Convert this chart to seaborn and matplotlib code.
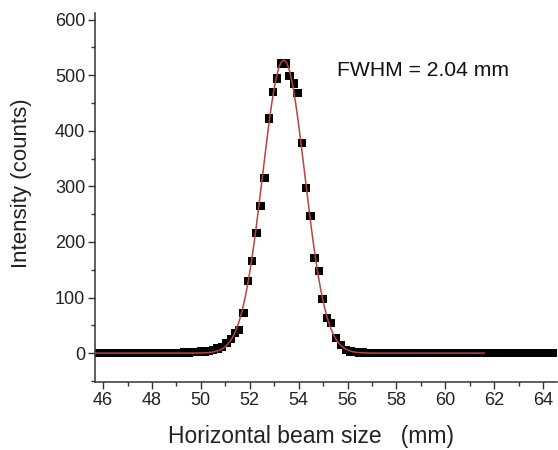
import numpy as np
import pandas as pd
import matplotlib
matplotlib.use("Agg")
import matplotlib.pyplot as plt
import seaborn as sns
from matplotlib.ticker import MultipleLocator

# ---- data ----
x_left = [45.75, 45.92, 46.09, 46.26, 46.43, 46.60, 46.77, 46.94, 47.11, 47.28,
          47.45, 47.62, 47.79, 47.96, 48.13, 48.30, 48.47, 48.64, 48.81, 48.98,
          49.15, 49.32, 49.49, 49.66, 49.83, 50.00, 50.17, 50.34, 50.51, 50.68]
y_left = [0, 0, 0, 0, 0, 0, 0, 0, 0, 0,
          0, 0, 0, 0, 0, 0, 0, 0, 0, 0,
          0, 1, 1, 2, 2, 3, 3, 4, 6, 8]

x_peak = [50.86, 51.05, 51.22, 51.39, 51.56, 51.75, 51.92, 52.09, 52.27, 52.44,
          52.61, 52.78, 52.94, 53.11, 53.30, 53.47, 53.63, 53.80, 53.96, 54.13,
          54.30, 54.48, 54.65, 54.82, 54.98, 55.15, 55.33, 55.52, 55.73, 55.94]
y_peak = [11, 18, 25, 36, 41, 72, 130, 166, 216, 265,
          315, 422, 470, 494, 521, 521, 499, 485, 468, 378,
          297, 247, 171, 148, 97, 63, 54, 27, 14, 5]

x_right = [56.12, 56.29, 56.46, 56.63, 56.80, 56.97, 57.14, 57.31, 57.48, 57.65,
           57.82, 57.99, 58.16, 58.33, 58.50, 58.67, 58.84, 59.01, 59.18, 59.35,
           59.52, 59.69, 59.86, 60.03, 60.20, 60.37, 60.54, 60.71, 60.88, 61.05,
           61.22, 61.39, 61.56, 61.73, 61.90, 62.07, 62.24, 62.41, 62.58, 62.75,
           62.92, 63.09, 63.26, 63.43, 63.60, 63.77, 63.94, 64.11, 64.28, 64.45]
y_right = [3, 2, 1, 1, 0, 0, 0, 0, 0, 0,
           0, 0, 0, 0, 0, 0, 0, 0, 0, 0,
           0, 0, 0, 0, 0, 0, 0, 0, 0, 0,
           0, 0, 0, 0, 0, 0, 0, 0, 0, 0,
           0, 0, 0, 0, 0, 0, 0, 0, 0, 0]

# Gaussian fit parameters (from the chart)
fit_amplitude = 527.0
fit_center = 53.39
fit_fwhm = 2.04
fit_range = (45.67, 61.6)

annotation = "FWHM = 2.04 mm"
xlabel = "Horizontal beam size   (mm)"
ylabel = "Intensity (counts)"

# ---- build frames ----
df = pd.DataFrame({"x": x_left + x_peak + x_right,
                   "y": y_left + y_peak + y_right})
sigma = fit_fwhm / (2 * np.sqrt(2 * np.log(2)))
xf = np.linspace(fit_range[0], fit_range[1], 600)
fit_df = pd.DataFrame({"x": xf,
                       "y": fit_amplitude * np.exp(-(xf - fit_center) ** 2 / (2 * sigma ** 2))})

sns.set_style("ticks")
plt.rcParams["font.family"] = ["Liberation Sans", "DejaVu Sans"]

fig = plt.figure(figsize=(5.58, 4.5), dpi=100)
ax = fig.add_axes([95 / 558, 1 - 382 / 450, (557 - 95) / 558, (382 - 13) / 450])

sns.scatterplot(data=df, x="x", y="y", marker="s", s=36, color="black",
                edgecolor="none", linewidth=0, ax=ax, zorder=2)
sns.lineplot(data=fit_df, x="x", y="y", color="#b8433f", linewidth=1.1,
             sort=False, ax=ax, zorder=3)

ax.set_xlim(45.67, 64.57)
ax.set_ylim(-52, 612)
ax.xaxis.set_major_locator(MultipleLocator(2))
ax.xaxis.set_minor_locator(MultipleLocator(1))
ax.yaxis.set_major_locator(MultipleLocator(100))
ax.yaxis.set_minor_locator(MultipleLocator(50))
ax.tick_params(which="major", direction="out", length=5, width=1, labelsize=13,
               color="#333333", labelcolor="#222222", pad=2)
ax.tick_params(which="minor", direction="out", length=3, width=1, color="#333333")

for s in ["top", "right"]:
    ax.spines[s].set_visible(False)
for s in ["left", "bottom"]:
    ax.spines[s].set_linewidth(1.1)
    ax.spines[s].set_color("#333333")

ax.set_xlabel("")
ax.set_ylabel("")
fig.text(311 / 558, 1 - 437 / 450, xlabel, ha="center", va="center",
         fontsize=16.5, color="#222222")
fig.text(22 / 558, 1 - 183 / 450, ylabel, ha="center", va="center",
         rotation=90, fontsize=16, color="#222222")
ax.text(55.55, 508, annotation, ha="left", va="center", fontsize=15.2, color="#111111")

fig.savefig("out.png", dpi=100)
